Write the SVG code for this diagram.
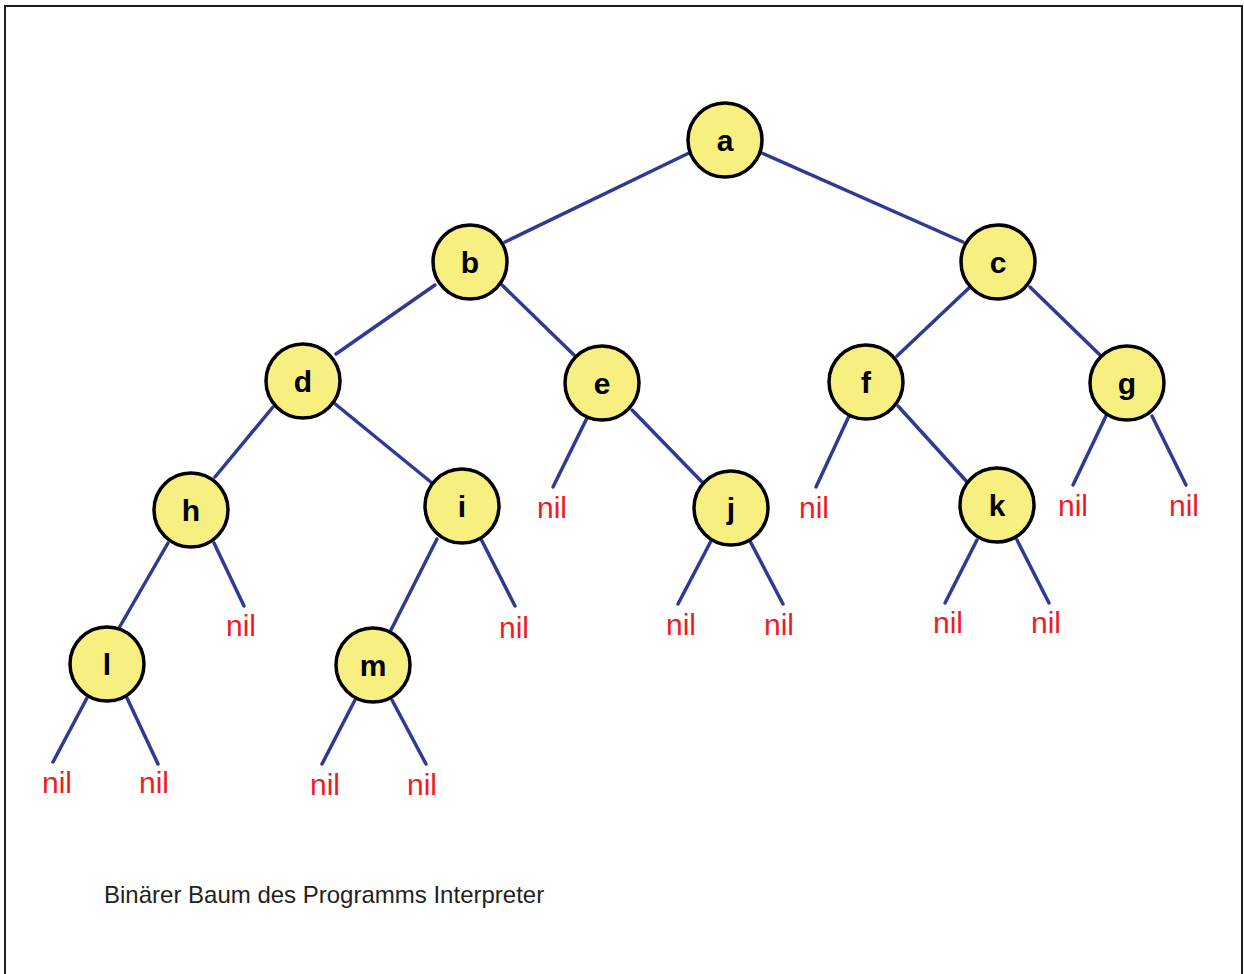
<svg xmlns="http://www.w3.org/2000/svg" width="1244" height="974" viewBox="0 0 1244 974">
<style>
.n circle{fill:#f7ef80;stroke:#000;stroke-width:3.5}
.n text{font-family:"Liberation Sans",Arial,sans-serif;font-size:30px;font-weight:bold;fill:#000;text-anchor:middle}
.nil{font-family:"Liberation Sans",Arial,sans-serif;font-size:30px;fill:#ed1c24;text-anchor:middle}
#edges line{stroke:#2e3a94;stroke-width:3.5;stroke-linecap:round}
</style>
<rect width="1244" height="974" fill="#fff"/>
<path d="M5,974 V6 H1242 V974" fill="none" stroke="#231f20" stroke-width="2"/>
<g id="edges">
<line x1="689" y1="153" x2="505" y2="242"/>
<line x1="762" y1="153" x2="963" y2="242"/>
<line x1="435" y1="285" x2="336" y2="354"/>
<line x1="502" y1="285" x2="574" y2="355"/>
<line x1="970" y1="287" x2="897" y2="356"/>
<line x1="1030" y1="287" x2="1101" y2="356"/>
<line x1="273" y1="407" x2="215" y2="477"/>
<line x1="334" y1="403" x2="432" y2="483"/>
<line x1="587" y1="418" x2="553" y2="487"/>
<line x1="632" y1="410" x2="703" y2="483"/>
<line x1="849" y1="416" x2="816" y2="487"/>
<line x1="898" y1="406" x2="968" y2="483"/>
<line x1="1106" y1="416" x2="1073" y2="485"/>
<line x1="1152" y1="416" x2="1186" y2="485"/>
<line x1="168" y1="543" x2="119" y2="628"/>
<line x1="214" y1="543" x2="244" y2="606"/>
<line x1="437" y1="539" x2="390" y2="632"/>
<line x1="481" y1="539" x2="515" y2="606"/>
<line x1="711" y1="541" x2="678" y2="604"/>
<line x1="750" y1="541" x2="783" y2="604"/>
<line x1="977" y1="540" x2="945" y2="603"/>
<line x1="1017" y1="540" x2="1049" y2="603"/>
<line x1="87" y1="698" x2="53" y2="762"/>
<line x1="127" y1="698" x2="158" y2="764"/>
<line x1="355" y1="700" x2="322" y2="764"/>
<line x1="392" y1="700" x2="426" y2="764"/>
</g>
<g id="node-a" class="n"><circle cx="725" cy="140" r="37"/><text x="725" y="151">a</text></g>
<g id="node-b" class="n"><circle cx="470" cy="262" r="37"/><text x="470" y="273">b</text></g>
<g id="node-c" class="n"><circle cx="998" cy="262" r="37"/><text x="998" y="273">c</text></g>
<g id="node-d" class="n"><circle cx="303" cy="381" r="37"/><text x="303" y="392">d</text></g>
<g id="node-e" class="n"><circle cx="602" cy="383" r="37"/><text x="602" y="394">e</text></g>
<g id="node-f" class="n"><circle cx="866" cy="382" r="37"/><text x="866" y="393">f</text></g>
<g id="node-g" class="n"><circle cx="1127" cy="383" r="37"/><text x="1127" y="394">g</text></g>
<g id="node-h" class="n"><circle cx="191" cy="510" r="37"/><text x="191" y="521">h</text></g>
<g id="node-i" class="n"><circle cx="462" cy="506" r="37"/><text x="462" y="517">i</text></g>
<g id="node-j" class="n"><circle cx="731" cy="508" r="37"/><text x="731" y="519">j</text></g>
<g id="node-k" class="n"><circle cx="997" cy="505" r="37"/><text x="997" y="516">k</text></g>
<g id="node-l" class="n"><circle cx="107" cy="664" r="37"/><text x="107" y="675">l</text></g>
<g id="node-m" class="n"><circle cx="373" cy="665" r="37"/><text x="373" y="676">m</text></g>
<g id="nils">
<text class="nil" x="552" y="518">nil</text>
<text class="nil" x="814" y="518">nil</text>
<text class="nil" x="1073" y="516">nil</text>
<text class="nil" x="1184" y="516">nil</text>
<text class="nil" x="241" y="636">nil</text>
<text class="nil" x="514" y="638">nil</text>
<text class="nil" x="681" y="635">nil</text>
<text class="nil" x="779" y="635">nil</text>
<text class="nil" x="948" y="633">nil</text>
<text class="nil" x="1046" y="633">nil</text>
<text class="nil" x="57" y="793">nil</text>
<text class="nil" x="154" y="793">nil</text>
<text class="nil" x="325" y="795">nil</text>
<text class="nil" x="422" y="795">nil</text>
</g>
<text x="104" y="903" font-family="'Liberation Sans',Arial,sans-serif" font-size="24" fill="#231f20">Binärer Baum des Programms Interpreter</text>
</svg>
